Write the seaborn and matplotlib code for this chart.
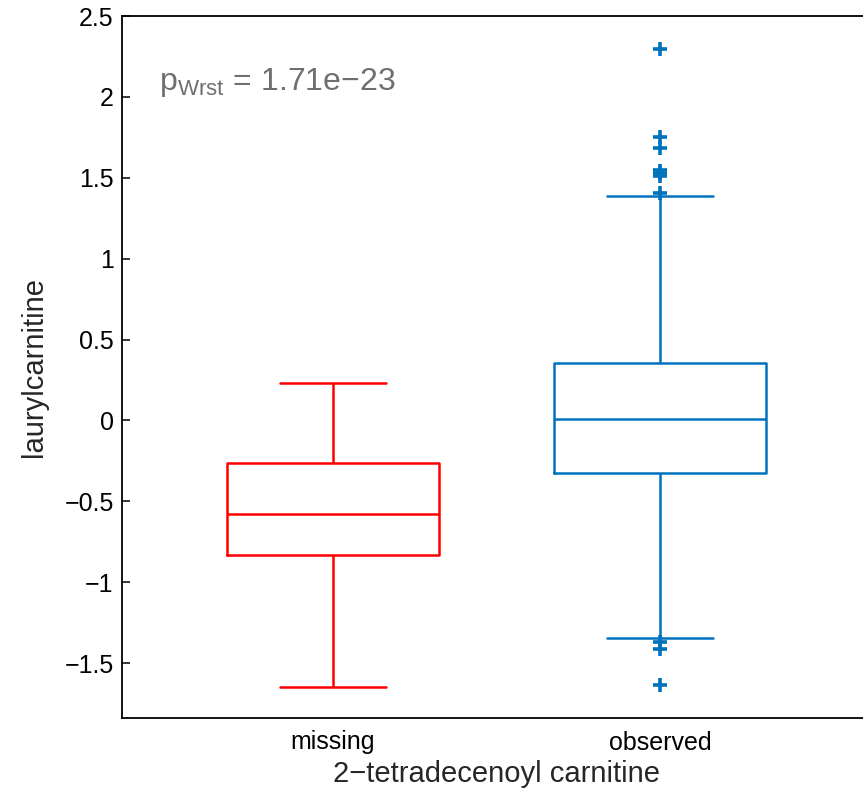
import numpy as np
import pandas as pd
import matplotlib
matplotlib.use("Agg")
import matplotlib.pyplot as plt
from matplotlib.ticker import FuncFormatter
import seaborn as sns

# five-number summaries: low whisker, Q1, median, Q3, high whisker
GROUPS = ["missing", "observed"]
missing_summary = [-1.648, -0.834, -0.577, -0.265, 0.229]
observed_summary = [-1.347, -0.327, 0.007, 0.357, 1.389]
observed_outliers = [2.298, 1.754, 1.686, 1.545, 1.530, 1.510, 1.408,
                     -1.368, -1.415, -1.636]
PALETTE = {"missing": "#FF0000", "observed": "#0072BD"}
P_TEXT = "p$_{\\mathregular{Wrst}}$ = 1.71e\u221223"

sns.set_style("white")
plt.rcParams["font.family"] = ["Liberation Sans", "DejaVu Sans"]
plt.rcParams["mathtext.fontset"] = "custom"
plt.rcParams["mathtext.rm"] = "Liberation Sans"

box_df = pd.DataFrame({
    "group": ["missing"] * len(missing_summary) + ["observed"] * len(observed_summary),
    "value": missing_summary + observed_summary,
})
out_df = pd.DataFrame({
    "group": ["observed"] * len(observed_outliers),
    "value": observed_outliers,
})

fig = plt.figure(figsize=(8.63, 7.9), dpi=100)
ax = fig.add_axes([122 / 863, 72 / 790, 749 / 863, 702 / 790])

sns.boxplot(data=box_df, x="group", y="value", hue="group", order=GROUPS,
            palette=PALETTE, fill=False, whis=(0, 100), width=0.65,
            capwidths=0.325, linewidth=1.8, showfliers=False, legend=False, ax=ax)
sns.stripplot(data=out_df, x="group", y="value", hue="group", order=GROUPS,
              palette=PALETTE, jitter=False, marker="+", size=10, linewidth=2.6,
              legend=False, ax=ax)

ax.set_xlim(-0.645, 1.645)
ax.set_ylim(-1.84, 2.5)
ax.set_yticks(np.arange(-1.5, 2.51, 0.5))
ax.yaxis.set_major_formatter(FuncFormatter(lambda v, p: f"{v:g}".replace("-", "\u2212")))
ax.tick_params(axis="y", direction="in", length=6, width=1.1, labelsize=18, pad=6,
               colors="black", right=True, left=True)
ax.tick_params(axis="x", length=0, labelsize=18, pad=9, colors="black")

for s in ax.spines.values():
    s.set_color("black")
    s.set_linewidth(1.3)

ax.set_xlabel("2\u2212tetradecenoyl carnitine", fontsize=21, labelpad=4)
ax.set_ylabel("laurylcarnitine", fontsize=21, labelpad=12)

ax.text(0.05, 0.895, P_TEXT, transform=ax.transAxes, ha="left", va="baseline",
        fontsize=23, color="#6f6f6f")

fig.savefig("out.png", dpi=100)
